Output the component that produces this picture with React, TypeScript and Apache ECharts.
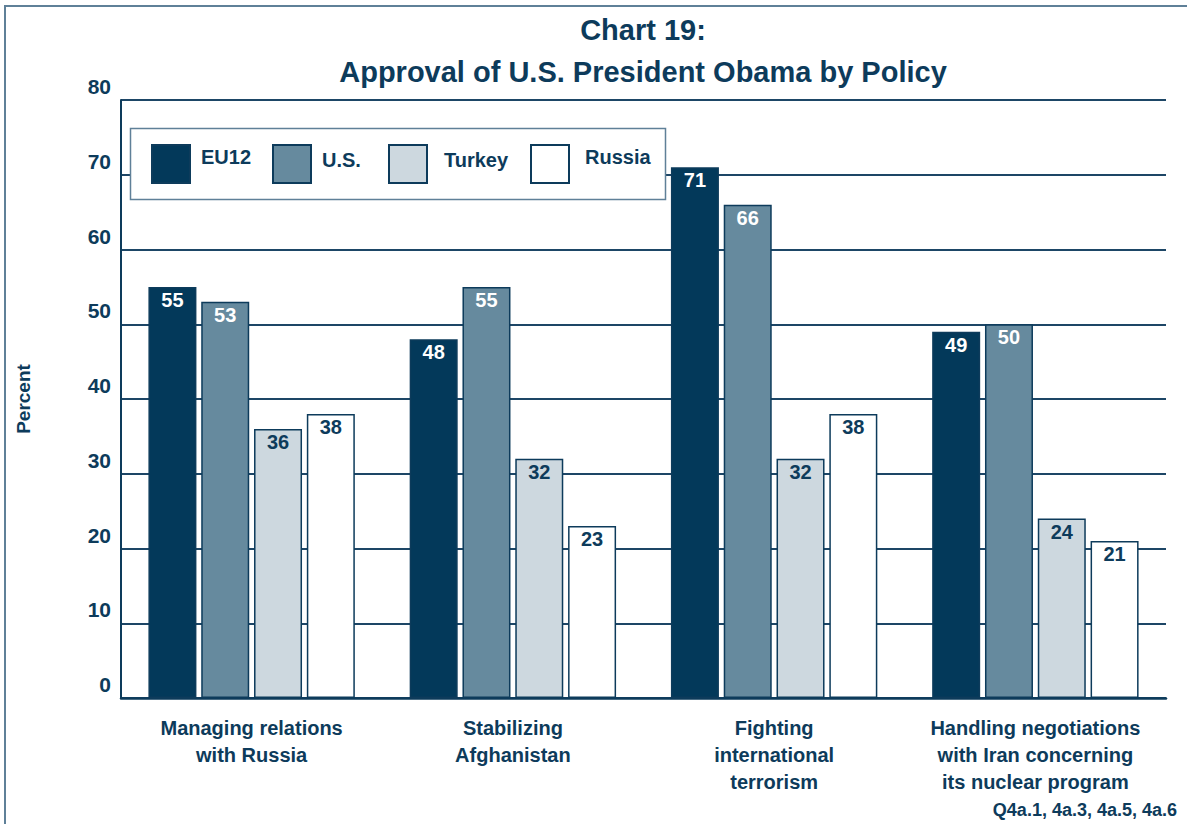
import React, { useEffect, useRef } from "react";
import * as echarts from "echarts";

const categories = [
  "Managing relations\nwith Russia",
  "Stabilizing\nAfghanistan",
  "Fighting\ninternational\nterrorism",
  "Handling negotiations\nwith Iran concerning\nits nuclear program",
];
const seriesNames = ["EU12", "U.S.", "Turkey", "Russia"];
const eu12 = [55, 48, 71, 49];
const us = [53, 55, 66, 50];
const turkey = [36, 32, 32, 24];
const russia = [38, 23, 38, 21];
const seriesValues = [eu12, us, turkey, russia];
const seriesColors = ["#03395a", "#668a9e", "#cdd8df", "#ffffff"];
const labelColors = ["#ffffff", "#ffffff", "#0d3b5b", "#0d3b5b"];
const yTicks = { min: 0, max: 80, interval: 10 };
const titleText = "Chart 19:\nApproval of U.S. President Obama by Policy";
const footnote = "Q4a.1, 4a.3, 4a.5, 4a.6";

const DARK = "#0d3b5b";
const FRAME = "#5f8098";
const FONT = "'Liberation Sans', Arial, sans-serif";

const legendPos = [
  { left: 151, padLeft: 6, shift: 7 },
  { left: 272, padLeft: 6, shift: 4 },
  { left: 388, padLeft: 12, shift: 4 },
  { left: 530, padLeft: 11, shift: 7 },
];

export default function App() {
  const ref = useRef<HTMLDivElement>(null);
  useEffect(() => {
    if (!ref.current) return;
    const chart = echarts.init(ref.current, null, { renderer: "svg" });
    const option = {
      animation: false,
      backgroundColor: "#ffffff",
      title: {
        text: titleText,
        left: 643,
        top: 9,
        textAlign: "center",
        padding: 0,
        textStyle: {
          fontFamily: FONT,
          fontSize: 29,
          fontWeight: "bold",
          color: DARK,
          lineHeight: 42,
        },
      },
      graphic: [
        {
          type: "rect",
          z: 0,
          silent: true,
          shape: { x: 5, y: 6, width: 1250, height: 900 },
          style: { fill: "none", stroke: FRAME, lineWidth: 2 },
        },
        {
          type: "rect",
          z: 5,
          silent: true,
          shape: { x: 130.5, y: 128.5, width: 535, height: 71 },
          style: { fill: "#ffffff", stroke: FRAME, lineWidth: 1.5 },
        },
        {
          type: "text",
          z: 5,
          silent: true,
          x: 1177,
          y: 810,
          style: {
            text: footnote,
            align: "right",
            verticalAlign: "middle",
            fontFamily: FONT,
            fontSize: 18,
            fontWeight: "bold",
            fill: DARK,
          },
        },
      ],
      legend: seriesNames.map((name, i) => ({
        z: 10,
        left: legendPos[i].left,
        top: 144,
        padding: 0,
        itemWidth: 38,
        itemHeight: 38,
        selectedMode: false,
        icon: "rect",
        data: [name],
        itemStyle: { borderColor: DARK, borderWidth: 2 },
        formatter: (n: string) => `{t|${n}}\n{s| }`,
        textStyle: {
          fontFamily: FONT,
          fontSize: 20,
          fontWeight: "bold",
          color: DARK,
          padding: [0, 0, 0, legendPos[i].padLeft],
          rich: {
            t: {
              fontFamily: FONT,
              fontSize: 20,
              fontWeight: "bold",
              color: DARK,
              lineHeight: 22,
            },
            s: { fontSize: 1, lineHeight: legendPos[i].shift * 2 },
          },
        },
      })),
      grid: { left: 121, right: 21, top: 100, bottom: 126, containLabel: false },
      xAxis: {
        type: "category",
        data: categories,
        axisTick: { show: false },
        axisLine: { show: true, lineStyle: { color: DARK, width: 2.5 } },
        axisLabel: {
          interval: 0,
          margin: 16,
          fontFamily: FONT,
          fontSize: 20,
          fontWeight: "bold",
          color: DARK,
          lineHeight: 27,
        },
      },
      yAxis: {
        type: "value",
        min: yTicks.min,
        max: yTicks.max,
        interval: yTicks.interval,
        name: "Percent",
        nameLocation: "middle",
        nameRotate: 90,
        nameGap: 88,
        nameTextStyle: {
          fontFamily: FONT,
          fontSize: 19,
          fontWeight: "bold",
          color: DARK,
        },
        axisLine: { show: true, lineStyle: { color: DARK, width: 2 } },
        axisTick: { show: false },
        splitLine: { show: true, lineStyle: { color: "#1d4666", width: 2 } },
        axisLabel: {
          margin: 10,
          fontFamily: FONT,
          fontSize: 21,
          fontWeight: "bold",
          color: DARK,
          verticalAlign: "bottom",
          lineHeight: 21,
          padding: [0, 0, 3, 0],
        },
      },
      series: seriesNames.map((name, i) => ({
        name,
        type: "bar",
        data: seriesValues[i],
        barWidth: 48,
        barGap: "10%",
        itemStyle: {
          color: seriesColors[i],
          borderColor: DARK,
          borderWidth: 1.5,
        },
        label: {
          show: true,
          position: "insideTop",
          distance: 3,
          fontFamily: FONT,
          fontSize: 20,
          fontWeight: "bold",
          color: labelColors[i],
        },
      })),
    };
    chart.setOption(option as any);
    return () => chart.dispose();
  }, []);
  return (
    <div
      ref={ref}
      style={{ position: "absolute", left: 0, top: 0, width: 1187, height: 824 }}
    />
  );
}
